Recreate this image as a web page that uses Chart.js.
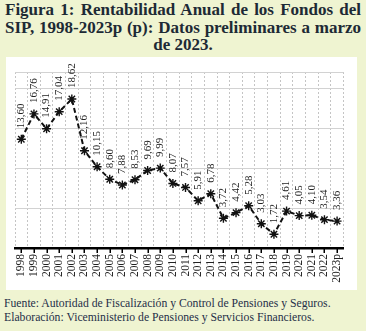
<!DOCTYPE html>
<html>
<head>
<meta charset="utf-8">
<script src="https://cdn.jsdelivr.net/npm/chart.js@4.4.1/dist/chart.umd.min.js"></script>
<style>
  html, body { margin: 0; padding: 0; }
  body { width: 366px; height: 331px; background: #eff4d1; position: relative; overflow: hidden; }
  #title {
    position: absolute; left: 5px; top: 1px; width: 356px;
    font: bold 17px "Liberation Serif", "Times New Roman", serif;
    line-height: 17.5px; color: #1d2a35;
    text-align: justify; text-align-last: center;
  }
  #panel { position: absolute; left: 6px; top: 57px; width: 351px; height: 233px; background: #fff; }
  #panel canvas { display: block; }
  #foot {
    position: absolute; left: 4px; top: 297px; width: 362px;
    font: 11.7px "Liberation Serif", "Times New Roman", serif;
    line-height: 14px; color: #1f2f48; white-space: nowrap;
  }
</style>
</head>
<body>
<div id="title">Figura 1: Rentabilidad Anual de los Fondos del SIP, 1998-2023p (p): Datos preliminares a marzo de 2023.</div>
<div id="panel"><canvas id="c" width="351" height="233"></canvas></div>
<div id="foot">Fuente: Autoridad de Fiscalización y Control de Pensiones y Seguros.<br>Elaboración: Viceministerio de Pensiones y Servicios Financieros.</div>
<script>
// Annual yield of the SIP funds (%), 1998-2023p
const years = ['1998','1999','2000','2001','2002','2003','2004','2005','2006','2007','2008','2009','2010',
               '2011','2012','2013','2014','2015','2016','2017','2018','2019','2020','2021','2022','2023p'];
const rentabilidad = [13.60, 16.76, 14.91, 17.04, 18.62, 12.16, 10.15, 8.60, 7.88, 8.53, 9.69, 9.99, 8.07,
                      7.57, 5.91, 6.78, 3.72, 4.42, 5.28, 3.03, 1.72, 4.61, 4.05, 4.10, 3.54, 3.36];
const yTicks = { min: 0, max: 22, step: 5 };

const fmt = v => v.toFixed(2).replace('.', ',');

// vertical value labels above each point
const valueLabels = {
  id: 'valueLabels',
  afterDatasetsDraw(chart) {
    const ctx = chart.ctx;
    const meta = chart.getDatasetMeta(0);
    ctx.save();
    ctx.font = '11px "Liberation Serif", "Times New Roman", serif';
    ctx.fillStyle = '#222';
    ctx.textAlign = 'left';
    ctx.textBaseline = 'middle';
    meta.data.forEach((pt, i) => {
      ctx.save();
      ctx.translate(pt.x, pt.y - 11);
      ctx.rotate(-Math.PI / 2);
      ctx.fillText(fmt(rentabilidad[i]), 0, 0);
      ctx.restore();
    });
    ctx.restore();
  }
};

// short black tick marks under each category on the x axis
const categoryTicks = {
  id: 'categoryTicks',
  afterDraw(chart) {
    const sc = chart.scales.x;
    const ctx = chart.ctx;
    ctx.save();
    ctx.strokeStyle = '#000';
    ctx.lineWidth = 1.5;
    ctx.beginPath();
    sc.ticks.forEach((t, i) => {
      const x = Math.round(sc.getPixelForTick(i)) + 0.25;
      ctx.moveTo(x, sc.top);
      ctx.lineTo(x, sc.top + 5);
    });
    ctx.stroke();
    ctx.restore();
  }
};

new Chart(document.getElementById('c'), {
  type: 'line',
  data: {
    labels: years,
    datasets: [{
      data: rentabilidad,
      borderColor: '#111',
      borderWidth: 2,
      borderDash: [5, 3],
      tension: 0,
      fill: false,
      pointStyle: 'star',
      pointRadius: 4.5,
      pointBorderWidth: 1.4,
      pointBorderColor: '#111',
      pointBackgroundColor: '#111'
    }]
  },
  options: {
    responsive: false,
    animation: false,
    layout: { padding: { left: 9, right: 4, top: 15, bottom: 0 } },
    plugins: { legend: { display: false }, tooltip: { enabled: false } },
    scales: {
      x: {
        offset: true,
        grid: {
          offset: true,
          color: '#c4c4c4',
          lineWidth: 1,
          drawTicks: false
        },
        border: { display: true, color: '#000', width: 2.5, dash: [2, 2] },
        ticks: {
          autoSkip: false,
          maxRotation: 90,
          minRotation: 90,
          padding: 6,
          color: '#222',
          font: { family: '"Liberation Serif", "Times New Roman", serif', size: 11.5 }
        },
        afterFit(scale) { scale.height = 42; }
      },
      y: {
        min: yTicks.min,
        max: yTicks.max,
        grid: { color: '#d2d2d2', lineWidth: 1, drawTicks: false },
        border: { display: false },
        ticks: { display: false, stepSize: yTicks.step },
        afterFit(scale) { scale.width = 0; }
      }
    }
  },
  plugins: [valueLabels, categoryTicks]
});
</script>
</body>
</html>
